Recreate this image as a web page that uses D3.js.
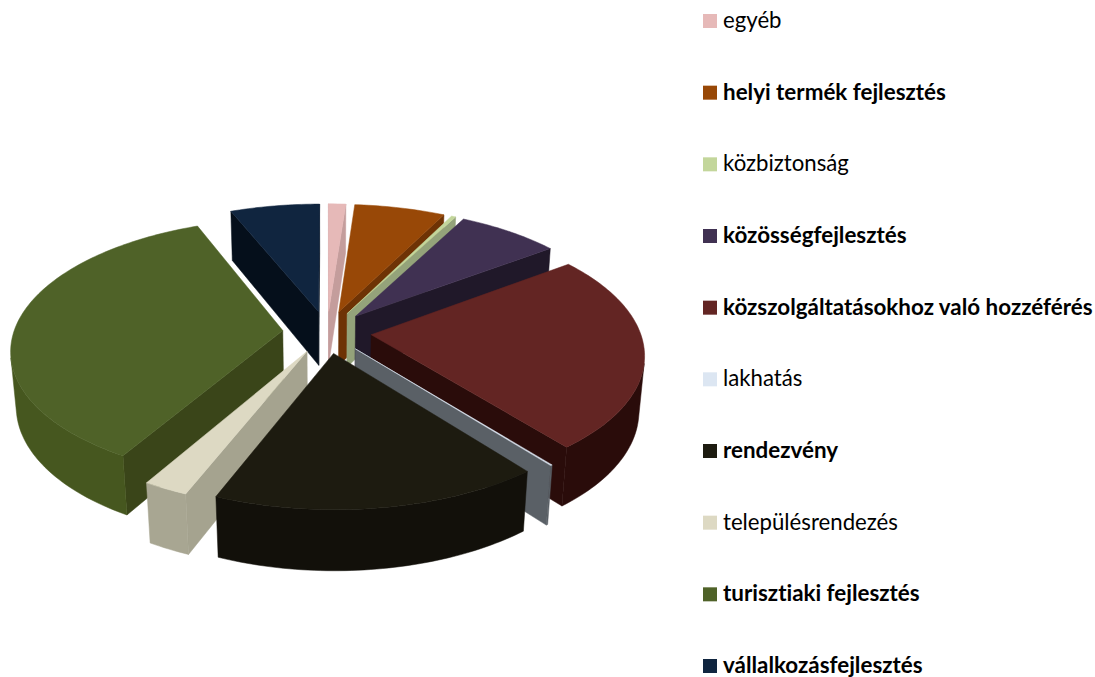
<!DOCTYPE html>
<html>
<head>
<meta charset="utf-8">
<script src="https://cdn.jsdelivr.net/npm/d3@7"></script>
<style>
  html, body { margin: 0; padding: 0; background: #fff; }
  text { font-family: Lato, "Open Sans", sans-serif; fill: #000; font-variant-ligatures: none; }
</style>
</head>
<body>
<div id="chart"></div>
<script>
const categories = ["egyéb", "helyi termék fejlesztés", "közbiztonság", "közösségfejlesztés",
  "közszolgáltatásokhoz való hozzéférés", "lakhatás", "rendezvény", "településrendezés",
  "turisztiaki fejlesztés", "vállalkozásfejlesztés"];
// share of each slice (%)
const values = [1.2, 6.3, 0.3, 7.1, 24.3, 0.1, 16.8, 2.3, 35.4, 6.2];
const boldLabels = [false, true, false, true, true, false, true, false, true, true];

const topColors = ["#e6b9b8", "#984807", "#c3d69b", "#403152", "#632523", "#dce6f2", "#1d1b10", "#ddd9c3", "#4f6228", "#10253f"];
const wallColors = ["#c49d9c", "#6e3305", "#94a37a", "#201829", "#2a0c0a", "#5a6066", "#12100a", "#a5a38f", "#3a4519", "#050f1b"];
const rimColors = ["#c49d9c", "#6e3305", "#94a37a", "#201829", "#2a0c0a", "#5a6066", "#12100a", "#a8a692", "#46571f", "#050f1b"];

const width = 1095, height = 677;
const svg = d3.select("#chart").append("svg")
  .attr("width", width).attr("height", height);

// camera for the tilted pie, in units of the pie radius
const radius = 269, cx = 327, cy = 332;
const explode = 0.165, thickness = 0.234;
const tilt = 28.4 * Math.PI / 180, camDist = 6.3;
const sinT = Math.sin(tilt), cosT = Math.cos(tilt);

function project(u, v, h) {
  const z = camDist - v * cosT - h * sinT;
  const k = radius * camDist / z;
  return [cx + u * k, cy + (v * sinT - h * cosT) * k];
}

const color = d3.scaleOrdinal().domain(categories).range(topColors);
const wallColor = d3.scaleOrdinal().domain(categories).range(wallColors);
const rimColor = d3.scaleOrdinal().domain(categories).range(rimColors);

const pie = d3.pie().sort(null).value(d => d.value);
const slices = pie(categories.map((c, i) => ({ name: c, value: values[i] })));
const line = d3.line();

const mid = d => (d.startAngle + d.endAngle) / 2;
const gPie = svg.append("g").attr("class", "pie");

function face(g, pts, fill) {
  g.append("path").attr("d", line(pts) + "Z")
    .attr("fill", fill).attr("stroke", fill).attr("stroke-width", 0.5);
}

// far slices first so the near ones paint over them
const ordered = slices.slice().sort((a, b) => d3.ascending(-Math.cos(mid(a)), -Math.cos(mid(b))));

ordered.forEach(d => {
  const ox = Math.sin(mid(d)) * explode, oy = -Math.cos(mid(d)) * explode;
  const pt = (a, r, h) => project(ox + Math.sin(a) * r, oy - Math.cos(a) * r, h);
  const n = Math.max(2, Math.ceil((d.endAngle - d.startAngle) / 0.02));
  const angles = d3.range(n + 1).map(i => d.startAngle + (d.endAngle - d.startAngle) * i / n);
  const g = gPie.append("g");

  // the two cut faces, whichever looks at the viewer
  [[d.startAngle, 1], [d.endAngle, -1]].forEach(([a, dir]) => {
    const quad = [pt(a, 0, 0), pt(a, 1, 0), pt(a, 1, -thickness), pt(a, 0, -thickness)];
    if (d3.polygonArea(quad) * dir > 0) face(g, quad, wallColor(d.data.name));
  });

  // rim: join the strips that face the viewer into one shape
  const front = d3.pairs(angles).filter(([a0, a1]) =>
    d3.polygonArea([pt(a0, 1, 0), pt(a1, 1, 0), pt(a1, 1, -thickness), pt(a0, 1, -thickness)]) > 0);
  if (front.length) {
    const rimAngles = [front[0][0]].concat(front.map(p => p[1]));
    const rim = rimAngles.map(a => pt(a, 1, 0))
      .concat(rimAngles.slice().reverse().map(a => pt(a, 1, -thickness)));
    face(g, rim, rimColor(d.data.name));
  }

  const top = [pt(d.startAngle, 0, 0)].concat(angles.map(a => pt(a, 1, 0)));
  face(g, top, color(d.data.name));
});

// legend
const legendY = d3.scalePoint().domain(categories).range([21, 666]);
const legend = svg.append("g").attr("class", "legend").selectAll("g")
  .data(categories).join("g")
  .attr("transform", d => `translate(703,${legendY(d)})`);
legend.append("rect").attr("x", 0).attr("y", -7).attr("width", 14).attr("height", 14)
  .attr("fill", d => color(d));
legend.append("text").attr("x", 20).attr("y", 7)
  .attr("font-size", (d, i) => boldLabels[i] ? 22.4 : 22.2)
  .attr("font-weight", (d, i) => boldLabels[i] ? 700 : 400)
  .text(d => d);
</script>
</body>
</html>
